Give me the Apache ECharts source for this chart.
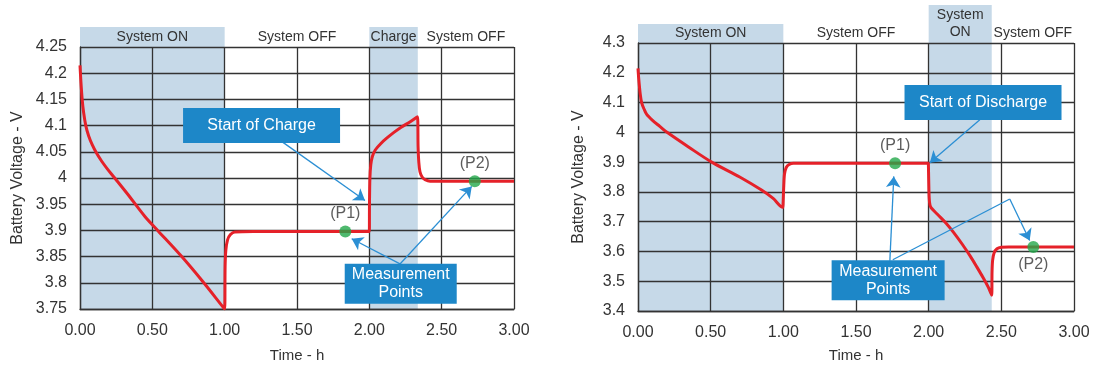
<!DOCTYPE html>
<html>
<head>
<meta charset="utf-8">
<script src="https://cdn.jsdelivr.net/npm/echarts@6/dist/echarts.min.js"></script>
<style>
  html, body { margin: 0; padding: 0; background: #fff; }
  #main { width: 1094px; height: 368px; }
</style>
</head>
<body>
<div id="main"></div>
<script>
// ---- left panel: charge test ----
const chargeTime = [0, 0.006, 0.015, 0.025, 0.04, 0.06, 0.085, 0.115, 0.15, 0.19, 0.24, 0.33, 0.45, 0.54, 0.70, 0.85, 0.985, 1.0,
  1.003, 1.008, 1.02, 1.04, 1.07, 1.2, 1.995,
  2.0, 2.001, 2.004, 2.01, 2.02, 2.04, 2.08, 2.12, 2.17, 2.22, 2.28, 2.333,
  2.337, 2.342, 2.35, 2.365, 2.385, 2.42, 2.5, 3.0];
const chargeVolt = [4.215, 4.185, 4.15, 4.125, 4.1, 4.08, 4.063, 4.047, 4.032, 4.017, 4.0, 3.969, 3.926, 3.899, 3.851, 3.802, 3.755, 3.75,
  3.83, 3.862, 3.882, 3.892, 3.897, 3.898, 3.898,
  3.898, 3.95, 4.0, 4.025, 4.04, 4.053, 4.066, 4.076, 4.087, 4.097, 4.107, 4.117,
  4.06, 4.03, 4.012, 4.002, 3.997, 3.994, 3.994, 3.994];
const chargePhaseNames = ['System ON', 'System OFF', 'Charge', 'System OFF'];
const chargePhaseEdges = [0, 1, 2, 2.335, 3];
const chargePointNames = ['(P1)', '(P2)'];
const chargePointTime = [1.834, 2.729];
const chargePointVolt = [3.898, 3.994];

// ---- right panel: discharge test ----
const dischargeTime = [0, 0.005, 0.015, 0.025, 0.04, 0.06, 0.1, 0.15, 0.2, 0.35, 0.507, 0.7, 0.85, 0.93, 0.997,
  1.0, 1.003, 1.008, 1.02, 1.04, 1.07, 1.998,
  2.0, 2.002, 2.006, 2.015, 2.06, 2.12, 2.17, 2.23, 2.285, 2.33, 2.377, 2.41, 2.434,
  2.436, 2.44, 2.45, 2.47, 2.5, 2.55, 3.0];
const dischargeVolt = [4.215, 4.18, 4.13, 4.1, 4.08, 4.06, 4.04, 4.02, 4.0, 3.95, 3.9, 3.85, 3.806, 3.778, 3.748,
  3.748, 3.82, 3.86, 3.882, 3.892, 3.896, 3.896,
  3.896, 3.8, 3.765, 3.748, 3.725, 3.695, 3.665, 3.625, 3.585, 3.549, 3.51, 3.48, 3.453,
  3.53, 3.57, 3.595, 3.609, 3.614, 3.615, 3.615];
const dischargePhaseNames = ['System ON', 'System OFF', 'System\nON', 'System OFF'];
const dischargePhaseEdges = [0, 1, 2, 2.434, 3];
const dischargePointNames = ['(P1)', '(P2)'];
const dischargePointTime = [1.769, 2.72];
const dischargePointVolt = [3.896, 3.615];

const timeAxis = { min: 0, max: 3, step: 0.5 };
const chargeVoltAxis = { min: 3.75, max: 4.25, step: 0.05 };
const dischargeVoltAxis = { min: 3.4, max: 4.3, step: 0.1 };

const FONT = 'Liberation Sans, Arial, sans-serif';
const INK = '#333';
const SHADE = '#c6d9e8';
const RED = '#e52129';
const GREEN = '#23a74a';
const BOX = '#1d87c8';
const ARROW = '#2b8fd4';

const pairs = (ts, vs) => ts.map((t, i) => [t, vs[i]]);

function gridAxes(g, yr, nameGapX, nameGapY) {
  const line = { color: INK, width: 1.3 };
  return {
    x: {
      gridIndex: g, type: 'value', min: timeAxis.min, max: timeAxis.max, interval: timeAxis.step, z: 2,
      axisLine: { show: true, lineStyle: line }, axisTick: { show: false },
      splitLine: { show: true, lineStyle: line },
      axisLabel: { formatter: v => v.toFixed(2), fontSize: 16, color: INK, fontFamily: FONT, margin: 14 },
      name: 'Time - h', nameLocation: 'middle', nameGap: nameGapX,
      nameTextStyle: { fontSize: 15, color: INK, fontFamily: FONT }
    },
    y: {
      gridIndex: g, type: 'value', min: yr.min, max: yr.max, interval: yr.step, z: 2,
      axisLine: { show: true, lineStyle: line }, axisTick: { show: false },
      splitLine: { show: true, lineStyle: line },
      axisLabel: { formatter: v => String(+v.toFixed(2)), fontSize: 16, color: INK, fontFamily: FONT, margin: 13 },
      name: 'Battery Voltage - V', nameLocation: 'middle', nameGap: nameGapY,
      nameTextStyle: { fontSize: 16, color: INK, fontFamily: FONT }
    }
  };
}

function headerAreas(names, edges, heights) {
  return names.map((n, i) => {
    const shaded = n !== 'System OFF';
    return [
      { name: n, xAxis: edges[i], yAxis: 0, itemStyle: { color: shaded ? SHADE : 'rgba(0,0,0,0)' } },
      { xAxis: edges[i + 1], yAxis: heights[i] }
    ];
  });
}

function bodyAreas(names, edges) {
  const out = [];
  names.forEach((n, i) => {
    if (n !== 'System OFF') out.push([{ xAxis: edges[i] }, { xAxis: edges[i + 1] }]);
  });
  return out;
}

function box(text, coord, w, h) {
  return { name: text, coord: coord, symbol: 'rect', symbolSize: [w, h] };
}
function arrow(from, to) {
  return [{ coord: from, symbol: 'none' }, { coord: to, symbol: 'arrow', symbolSize: 11 }];
}
function seg(from, to) {
  return [{ coord: from, symbol: 'none' }, { coord: to, symbol: 'none' }];
}

const L = gridAxes(1, chargeVoltAxis, 39, 54);
const R = gridAxes(3, dischargeVoltAxis, 37, 51);

const hiddenX = g => ({ gridIndex: g, type: 'value', min: 0, max: 3, show: false });
const hiddenY = (g, m) => ({ gridIndex: g, type: 'value', min: 0, max: m, show: false });

const markLabel = { show: true, color: INK, fontSize: 14, fontFamily: FONT, position: 'inside', lineHeight: 17 };
const curveStyle = { type: 'line', z: 3, showSymbol: false, silent: true, smooth: 0.3,
  lineStyle: { color: RED, width: 3, join: 'round' } };

const option = {
  animation: false,
  backgroundColor: '#fff',
  grid: [
    { left: 80, top: 27, width: 434, height: 20 },
    { left: 80, top: 47, width: 434, height: 269 },
    { left: 638, top: 5, width: 436, height: 38 },
    { left: 638, top: 43, width: 436, height: 270 }
  ],
  xAxis: [hiddenX(0), L.x, hiddenX(2), R.x],
  yAxis: [hiddenY(0, 1), L.y, hiddenY(2, 2), R.y],
  series: [
    // header strips
    {
      type: 'line', xAxisIndex: 0, yAxisIndex: 0, data: [], silent: true,
      markArea: { silent: true, label: markLabel, data: headerAreas(chargePhaseNames, chargePhaseEdges, [1, 1, 1, 1]) }
    },
    {
      type: 'line', xAxisIndex: 2, yAxisIndex: 2, data: [], silent: true,
      markArea: { silent: true, label: markLabel, data: headerAreas(dischargePhaseNames, dischargePhaseEdges, [1, 1, 2, 1]) }
    },
    // shaded phases inside plot
    {
      type: 'line', xAxisIndex: 1, yAxisIndex: 1, data: [], silent: true, z: 1,
      markArea: { silent: true, z: 1, itemStyle: { color: SHADE }, data: bodyAreas(chargePhaseNames, chargePhaseEdges) }
    },
    {
      type: 'line', xAxisIndex: 3, yAxisIndex: 3, data: [], silent: true, z: 1,
      markArea: { silent: true, z: 1, itemStyle: { color: SHADE }, data: bodyAreas(dischargePhaseNames, dischargePhaseEdges) }
    },
    // voltage curves
    Object.assign({ xAxisIndex: 1, yAxisIndex: 1, data: pairs(chargeTime, chargeVolt) }, curveStyle),
    Object.assign({ xAxisIndex: 3, yAxisIndex: 3, data: pairs(dischargeTime, dischargeVolt) }, curveStyle),
    // measurement points + callouts
    {
      type: 'scatter', xAxisIndex: 1, yAxisIndex: 1, z: 6, symbolSize: 12, silent: true,
      itemStyle: { color: GREEN },
      label: { show: true, formatter: '{b}', fontSize: 16, color: INK, fontFamily: FONT, position: 'top', distance: 4 },
      data: chargePointNames.map((n, i) => ({ name: n, value: [chargePointTime[i], chargePointVolt[i]] })),
      markPoint: {
        silent: true, z: 5, itemStyle: { color: BOX },
        label: { show: true, position: 'inside', formatter: p => p.name, color: '#fff', fontSize: 16, fontFamily: FONT, lineHeight: 18 },
        data: [
          box('Start of Charge', [1.255, 4.1], 157, 35),
          box('Measurement\nPoints', [2.217, 3.798], 112, 40)
        ]
      },
      markLine: {
        silent: true, z: 4, label: { show: false }, lineStyle: { color: ARROW, width: 1.3, type: 'solid' },
        data: [
          arrow([1.403, 4.068], [1.970, 3.957]),
          arrow([2.212, 3.836], [1.878, 3.884]),
          arrow([2.212, 3.836], [2.708, 3.984])
        ]
      }
    },
    {
      type: 'scatter', xAxisIndex: 3, yAxisIndex: 3, z: 6, symbolSize: 12, silent: true,
      itemStyle: { color: GREEN },
      label: { show: true, formatter: '{b}', fontSize: 16, color: INK, fontFamily: FONT, distance: 4 },
      data: dischargePointNames.map((n, i) => ({
        name: n, value: [dischargePointTime[i], dischargePointVolt[i]],
        label: { position: i === 0 ? 'top' : 'bottom' }
      })),
      markPoint: {
        silent: true, z: 5, itemStyle: { color: BOX },
        label: { show: true, position: 'inside', formatter: p => p.name, color: '#fff', fontSize: 16, fontFamily: FONT, lineHeight: 18 },
        data: [
          box('Start of Discharge', [2.374, 4.1], 157, 35),
          box('Measurement\nPoints', [1.721, 3.503], 113, 40)
        ]
      },
      markLine: {
        silent: true, z: 4, label: { show: false }, lineStyle: { color: ARROW, width: 1.3, type: 'solid' },
        data: [
          arrow([2.352, 4.042], [2.008, 3.898]),
          arrow([1.733, 3.569], [1.760, 3.852]),
          seg([1.753, 3.572], [2.558, 3.776]),
          arrow([2.558, 3.776], [2.695, 3.637])
        ]
      }
    }
  ]
};

const chart = echarts.init(document.getElementById('main'), null, { renderer: 'canvas' });
chart.setOption(option);
</script>
</body>
</html>
